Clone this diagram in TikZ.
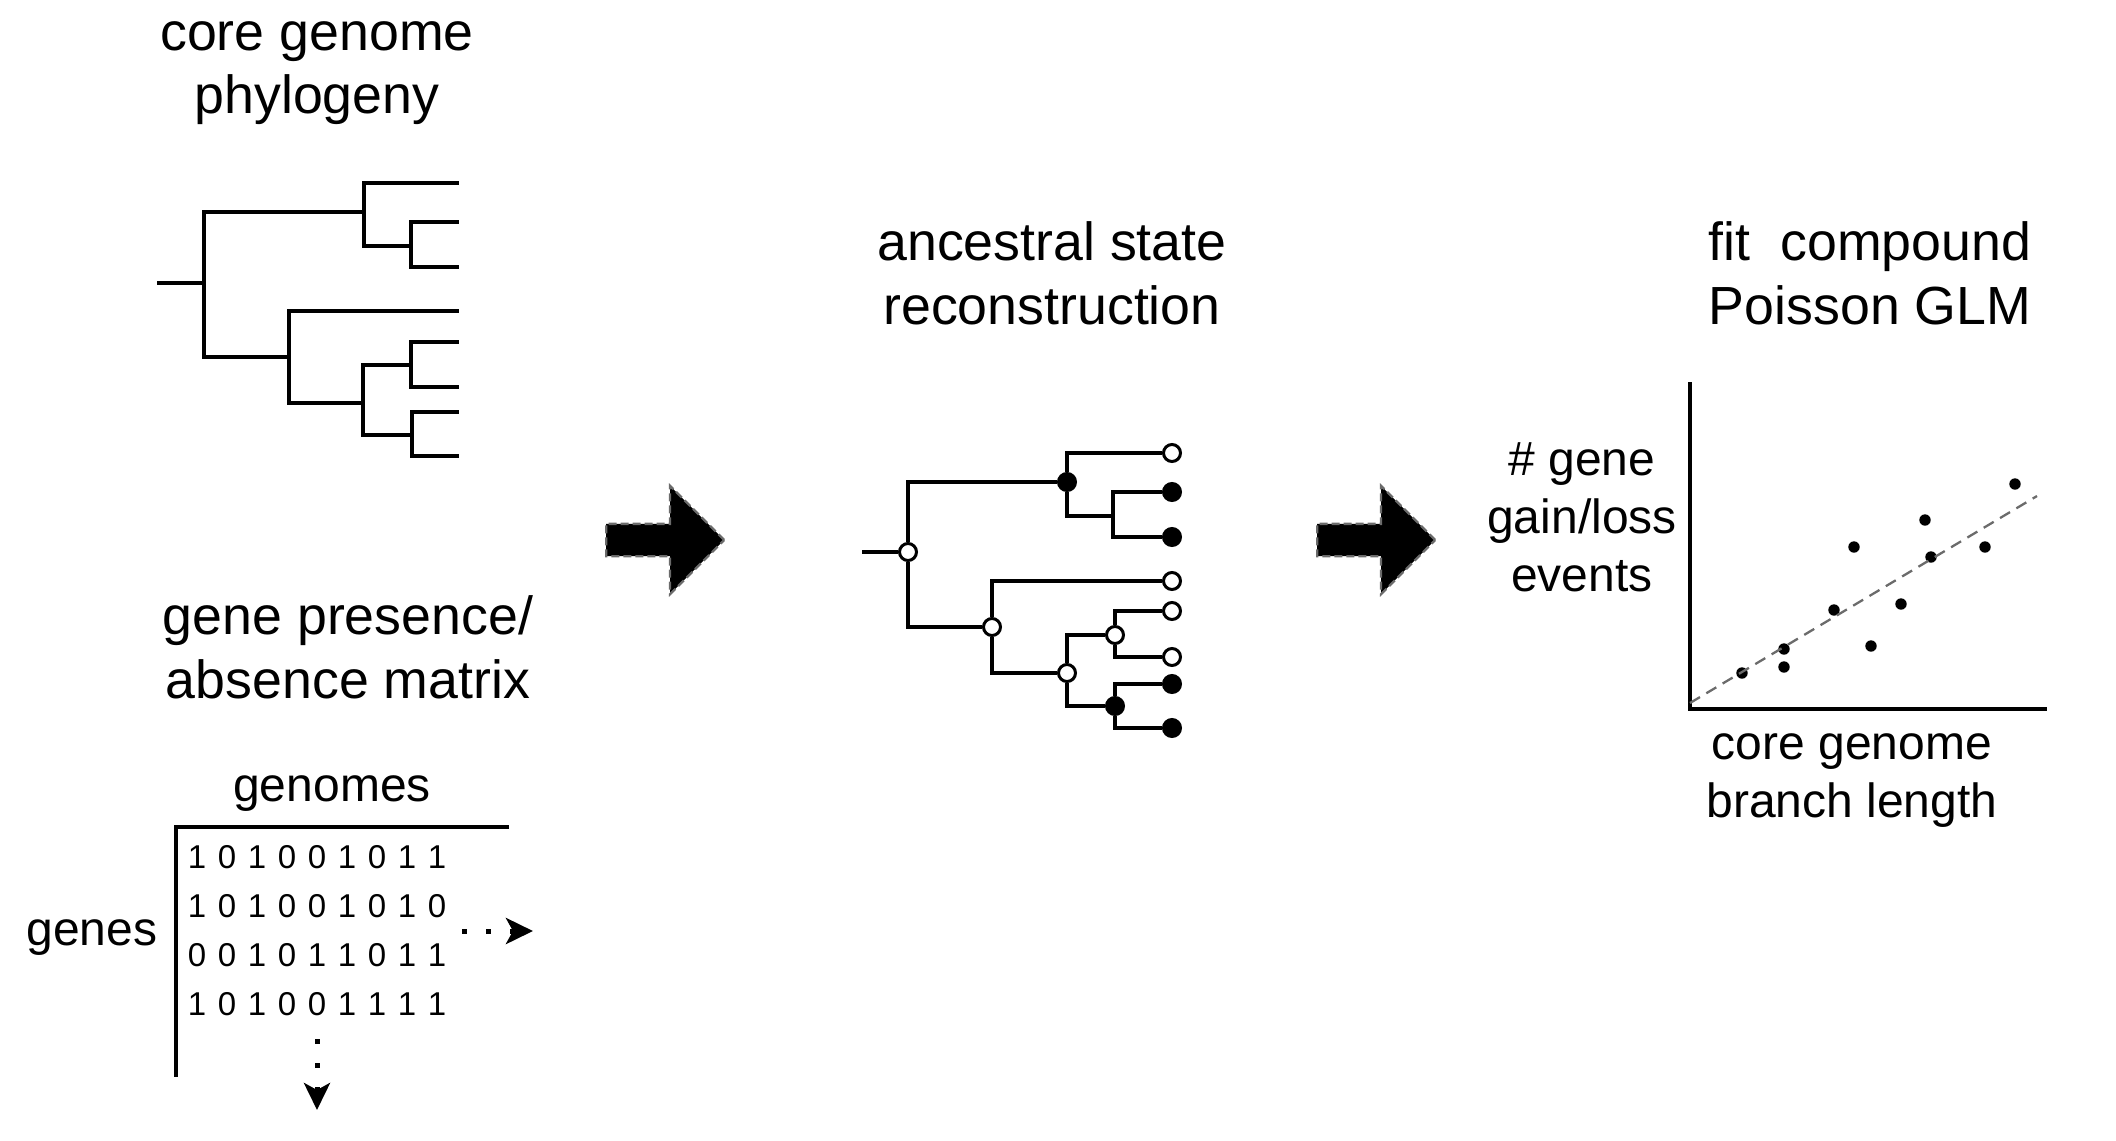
\documentclass[tikz,border=0pt]{standalone}
\usepackage{fontspec}
\setmainfont{Liberation Sans}
\usetikzlibrary{arrows.meta,shapes.arrows}
\definecolor{dashgray}{HTML}{6B6B6B}
\tikzset{
    heading/.style={
           font={\fontsize{26.85}{32}\selectfont},
           inner sep=0pt,
           anchor=base,
           },
}
\tikzset{
    sublabel/.style={
           font={\fontsize{24}{29}\selectfont},
           inner sep=0pt,
           anchor=base,
           },
}
\tikzset{
    bit/.style={
           font={\fontsize{16.5}{19}\selectfont},
           inner sep=0pt,
           anchor=base,
           },
}
\tikzset{
    branch/.style={
           line width=1.7pt,
           },
}
\tikzset{
    present/.style={
           circle,
           draw, line width=1.5pt,
           fill=black,
           inner sep=0pt,
           minimum size=8.5pt,
           },
}
\tikzset{
    absent/.style={
           circle,
           draw, line width=1.5pt,
           fill=white,
           inner sep=0pt,
           minimum size=8.5pt,
           },
}
\tikzset{
    blockarrow/.style={
           single arrow,
           fill=black,
           draw=dashgray, line width=1.15pt,
           dash pattern=on 4pt off 2pt,
           inner sep=7.5pt,
           single arrow head extend=19pt,
           minimum height=59pt,
           anchor=tail,
           },
}
\tikzset{
    ellipsis/.style={
           line width=2.5pt,
           dash pattern=on 2.5pt off 9.5pt,
           -{Stealth[length=13.5pt,width=13pt,inset=3.5pt]},
           },
}
\tikzset{
    datapt/.style={
           circle,
           fill=black,
           inner sep=0pt,
           minimum size=5.7pt,
           },
}

\begin{document}
\begin{tikzpicture}[x=0.5pt,y=-0.5pt]
\useasboundingbox (0,0) rectangle (2116,1141);

% core genome phylogeny
\node[heading](ph1) at (317,50){core genome};
\node[heading](ph2) at ([yshift=-31.5pt]ph1.base){phylogeny};
\coordinate (p0) at (157,283);
\coordinate (p1) at (204,283);
\coordinate (p2) at (364,212);
\coordinate (p3) at (411,246);
\coordinate (p4) at (289,357);
\coordinate (p5) at (363,403);
\coordinate (p6) at (411,365);
\coordinate (p7) at (412,435);
\foreach \y [count=\n] in {183,222,267,311,342,387,412,456}
    \coordinate (pt\n) at (459,\y);
\draw[branch] (p0) -- (p1)
    (p1) |- (p2) (p1) |- (p4)
    (p2) |- (pt1) (p2) |- (p3) (p3) |- (pt2) (p3) |- (pt3)
    (p4) |- (pt4) (p4) |- (p5) (p5) |- (p6) (p5) |- (p7)
    (p6) |- (pt5) (p6) |- (pt6) (p7) |- (pt7) (p7) |- (pt8);

% gene presence/absence matrix
\node[heading](gp1) at (348,634){gene presence/};
\node[heading](gp2) at ([yshift=-32pt]gp1.base){absence matrix};
\node[sublabel](gnm) at (332,801){genomes};
\node[sublabel](gns) at (92,945){genes};
\coordinate (m0) at (509,827);
\coordinate (m1) at (176,827);
\coordinate (m2) at (176,1077);
\draw[line width=2pt] (m0) -- (m1) -- (m2);
\foreach \row [count=\j from 0] in {{1,0,1,0,0,1,0,1,1},{1,0,1,0,0,1,0,1,0},{0,0,1,0,1,1,0,1,1},{1,0,1,0,0,1,1,1,1}}
    \foreach \b [count=\i from 0] in \row
        \node[bit](b\j\i) at ({197+30*\i},{868+49*\j}){\b};
\coordinate (r0) at (462,931);
\coordinate (r1) at (533,931);
\draw[ellipsis] (r0) -- (r1);
\coordinate (d0) at (317,1039);
\coordinate (d1) at (317,1110);
\draw[ellipsis] (d0) -- (d1);

\node[blockarrow](arr1) at (605,540){};
\node[blockarrow](arr2) at (1316,540){};

% ancestral state reconstruction
\node[heading](as1) at (1052,260){ancestral state};
\node[heading](as2) at ([yshift=-32pt]as1.base){reconstruction};
\coordinate (a0) at (862,552);
\node[absent](a1) at (908,552){};
\node[present](a2) at (1067,482){};
\coordinate (a3) at (1113,516);
\node[absent](a4) at (992,627){};
\node[absent](a5) at (1067,673){};
\node[absent](a6) at (1115,635){};
\node[present](a7) at (1115,706){};
\node[absent](at1) at (1172,453){};
\node[present](at2) at (1172,492){};
\node[present](at3) at (1172,537){};
\node[absent](at4) at (1172,581){};
\node[absent](at5) at (1172,611){};
\node[absent](at6) at (1172,657){};
\node[present](at7) at (1172,684){};
\node[present](at8) at (1172,728){};
\draw[branch] (a0) -- (a1)
    (a1) |- (a2) (a1) |- (a4)
    (a2) |- (at1) (a2) |- (a3) (a3) |- (at2) (a3) |- (at3)
    (a4) |- (at4) (a4) |- (a5) (a5) |- (a6) (a5) |- (a7)
    (a6) |- (at5) (a6) |- (at6) (a7) |- (at7) (a7) |- (at8);

% compound Poisson GLM
\node[heading](gl1) at (1870,260){fit\ \ compound};
\node[heading](gl2) at ([yshift=-32pt]gl1.base){Poisson GLM};
\node[sublabel](ev1) at (1582,475){\# gene};
\node[sublabel](ev2) at ([yshift=-29pt]ev1.base){gain/loss};
\node[sublabel](ev3) at ([yshift=-29pt]ev2.base){events};
\node[sublabel](bl1) at (1852,759){core genome};
\node[sublabel](bl2) at ([yshift=-29pt]bl1.base){branch length};
\coordinate (o) at (1690,709);
\coordinate (oy) at (1690,382);
\coordinate (ox) at (2047,709);
\draw[line width=2.4pt] (oy) -- (o) -- (ox);
\foreach \x/\y [count=\n] in {1742/673,1784/649,1784/667,1834/610,1854/547,1871/646,1901/604,1925/520,1931/557,1985/547,2015/484}
    \node[datapt](q\n) at (\x,\y){};
\coordinate (f0) at (1690,703);
\coordinate (f1) at (2037,496);
\draw[dashgray, line width=1.15pt, dash pattern=on 5.8pt off 3.7pt] (f0) -- (f1);
\end{tikzpicture}
\end{document}
